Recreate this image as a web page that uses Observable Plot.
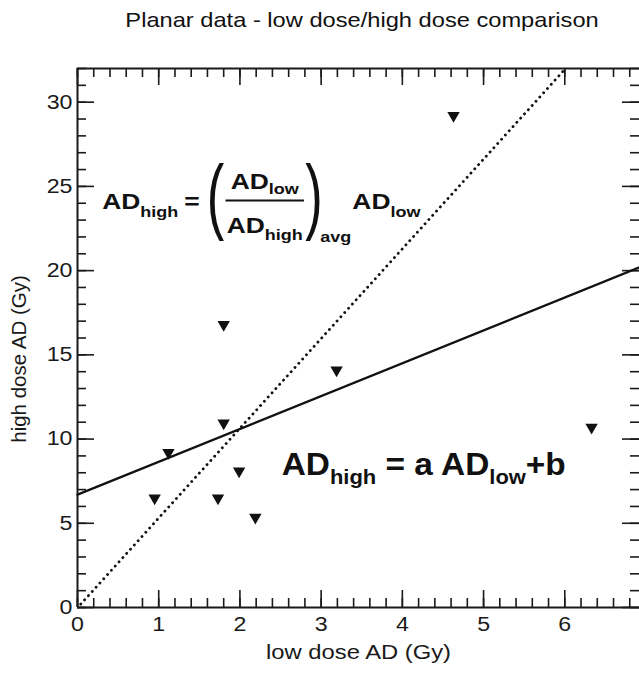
<!DOCTYPE html>
<html>
<head>
<meta charset="utf-8">
<script src="https://cdn.jsdelivr.net/npm/d3@7"></script>
<script src="https://cdn.jsdelivr.net/npm/@observablehq/plot@0.6"></script>
<style>
  html, body { margin: 0; padding: 0; background: #fff; overflow: hidden; }
  #title { width: 639px; height: 40px; box-sizing: border-box; padding-left: 86px; padding-top: 8px;
           text-align: center; font: 20.4px "Liberation Sans", Arial, sans-serif; color: #111; line-height: 24px; }
  #title span { display: inline-block; transform: scaleX(1.16); transform-origin: center; }
</style>
</head>
<body>
<div id="title"><span>Planar data - low dose/high dose comparison</span></div>
<div id="chart"></div>
<script>
// ---- data ----
const lowDose  = [0.95, 1.12, 1.80, 1.73, 1.99, 2.19, 1.80, 3.19, 4.63, 6.33];
const highDose = [6.5,  9.2,  10.95, 6.5, 8.1,  5.35, 16.8, 14.1, 29.2, 10.7];
// linear fit line (AD_high = a AD_low + b), endpoints
const fitX = [0, 6.92];
const fitY = [6.7, 20.2];
// ratio line (AD_high = <ratio>avg AD_low), endpoints
const ratioX = [0.04, 6.01];
const ratioY = [0.2, 32];
// tick labels
const xTicks = [0, 1, 2, 3, 4, 5, 6];
const yTicks = [0, 5, 10, 15, 20, 25, 30];
const xMinor = d3.range(0, 6.92, 0.2);
const yMinor = d3.range(0, 32.01, 1);

const points = lowDose.map((x, i) => ({x, y: highDose[i]}));

const W = 639, H = 637, mL = 77, mR = 0, mT = 28, mB = 70;
const pw = W - mL - mR, ph = H - mT - mB;
const major = 17, minor = 9;
const ink = "#1a1a1a";
const STRETCH = 1.16;

const plot = Plot.plot({
  width: W, height: H,
  marginLeft: mL, marginRight: mR, marginTop: mT, marginBottom: mB,
  style: {fontFamily: "'Liberation Sans', Arial, sans-serif", background: "white", color: ink},
  x: {domain: [0, 6.92]},
  y: {domain: [0, 32]},
  marks: [
    // frame (left, bottom, top)
    Plot.ruleX([0], {stroke: ink, strokeWidth: 2}),
    Plot.ruleY([0], {stroke: ink, strokeWidth: 2}),
    Plot.ruleY([32], {stroke: ink, strokeWidth: 2}),
    // bottom ticks
    Plot.ruleX(xMinor, {insetTop: ph - minor, stroke: ink, strokeWidth: 1.6}),
    Plot.ruleX(xTicks, {insetTop: ph - major, stroke: ink, strokeWidth: 1.6}),
    // top ticks
    Plot.ruleX(xMinor, {insetBottom: ph - minor, stroke: ink, strokeWidth: 1.6}),
    Plot.ruleX(xTicks, {insetBottom: ph - major, stroke: ink, strokeWidth: 1.6}),
    // left ticks
    Plot.ruleY(yMinor, {insetRight: pw - minor, stroke: ink, strokeWidth: 1.6}),
    Plot.ruleY(yTicks, {insetRight: pw - major, stroke: ink, strokeWidth: 1.6}),
    // right ticks
    Plot.ruleY(yMinor, {insetLeft: pw - minor, stroke: ink, strokeWidth: 1.6}),
    Plot.ruleY(yTicks, {insetLeft: pw - major, stroke: ink, strokeWidth: 1.6}),
    // tick labels
    Plot.axisX({ticks: xTicks, tickSize: 0, tickPadding: 9, fontSize: 20, label: null, tickFormat: d => String(d)}),
    Plot.axisY({ticks: yTicks, tickSize: 0, tickPadding: 5, fontSize: 20, label: null, tickFormat: d => String(d)}),
    // axis titles
    Plot.text(["low dose AD (Gy)"], {frameAnchor: "bottom", dy: 51, fontSize: 20.5, fill: ink}),
    Plot.text(["high dose AD (Gy)"], {frameAnchor: "left", textAnchor: "middle", dx: -58, dy: 21, rotate: -90,
      fontSize: 20.5, fill: ink}),
    // lines
    Plot.line(fitX.map((x, i) => ({x, y: fitY[i]})), {x: "x", y: "y", stroke: "#111", strokeWidth: 2.3}),
    Plot.line(ratioX.map((x, i) => ({x, y: ratioY[i]})), {x: "x", y: "y", stroke: "#111", strokeWidth: 2.8,
      strokeDasharray: "0.1 5.6", strokeLinecap: "round"}),
    // points
    Plot.dot(points, {x: "x", y: "y", symbol: "triangle", r: 4.6, rotate: 180, fill: "#111", stroke: "none"})
  ]
});
document.getElementById("chart").append(plot);

// widen horizontal texts to match the reference's wide lettering
d3.select(plot).selectAll("text").each(function() {
  const tf = this.getAttribute("transform") || "";
  const parentTf = this.parentNode.getAttribute("transform") || "";
  if (/rotate/.test(tf) || /rotate/.test(parentTf)) return;
  const len = this.getComputedTextLength();
  if (len > 0) {
    this.setAttribute("textLength", len * STRETCH);
    this.setAttribute("lengthAdjust", "spacingAndGlyphs");
  }
});

// ---- equation annotations (placed with the plot's scales) ----
const sx = plot.scale("x"), sy = plot.scale("y");
const svg = d3.select(plot);
const FONT = "'Liberation Sans', Arial, sans-serif";

function richText(g, parts, x, y) {
  // parts: [text, size, baselineShift]
  const t = g.append("text").attr("x", x).attr("y", y).attr("font-weight", "bold").attr("fill", "#111")
    .attr("text-anchor", "start");
  let prev = 0;
  for (const [s, size, shift] of parts) {
    t.append("tspan").attr("font-size", size).attr("dy", shift - prev).text(s);
    prev = shift;
  }
  return t;
}
const w = t => t.node().getComputedTextLength();

// Equation 1: AD_high = (AD_low / AD_high)_avg AD_low
{
  const F = 22, S = 15, k = 1.2;
  const g = svg.append("g").attr("font-family", FONT).attr("text-anchor", "start")
    .attr("transform", `translate(${sx.apply(0.31)},${sy.apply(23.6)}) scale(${k},1)`);
  let cx = 0;
  const t1 = richText(g, [["AD", F, 0], ["high", S, 8]], cx, 0); cx += w(t1) + 5;
  const t2 = richText(g, [["=", F, 0]], cx, 0); cx += w(t2) + 6;
  const paren = (ch, x) => {
    const pg = g.append("g").attr("transform", `translate(${x},15) scale(0.52,1)`);
    const t = pg.append("text").attr("font-size", 84).attr("font-weight", "normal").attr("fill", "#111")
      .attr("text-anchor", "start").text(ch);
    return w(t) * 0.52;
  };
  cx += paren("(", cx) + 1;
  const num = richText(g, [["AD", F, 0], ["low", S, 5]], 0, -20);
  const den = richText(g, [["AD", F, 0], ["high", S, 7]], 0, 24);
  const fw = Math.max(w(num), w(den)) + 2;
  num.attr("x", cx + (fw - w(num)) / 2);
  den.attr("x", cx + (fw - w(den)) / 2);
  g.append("line").attr("x1", cx).attr("x2", cx + fw).attr("y1", -9).attr("y2", -9)
    .attr("stroke", "#111").attr("stroke-width", 2);
  cx += fw + 1;
  cx += paren(")", cx) - 2;
  const t3 = richText(g, [["avg", S, 33]], cx, 0); cx += w(t3) + 1;
  richText(g, [["AD", F, 0], ["low", S, 8]], cx, 0);
}

// Equation 2: AD_high = a AD_low + b
{
  const F = 32, S = 21, s = 9;
  const g = svg.append("g").attr("font-family", FONT).attr("text-anchor", "start")
    .attr("transform", `translate(${sx.apply(2.52)},${sy.apply(7.84)}) scale(1.045,1)`);
  richText(g, [["AD", F, 0], ["high", S, s], [" = a AD", F, 0], ["low", S, s], ["+b", F, 0]], 0, 0);
}
</script>
</body>
</html>
